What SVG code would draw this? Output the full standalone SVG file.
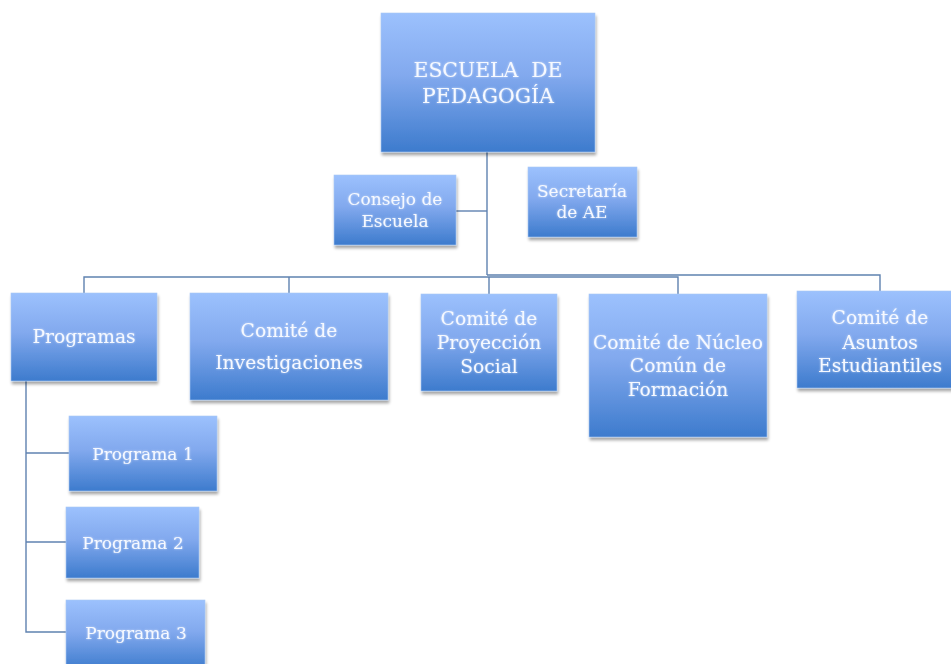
<svg xmlns="http://www.w3.org/2000/svg" width="951" height="664" viewBox="0 0 951 664">
<style>
.box{fill:url(#g);filter:url(#sh);stroke:#a9c8f5;stroke-width:0.6}
.t{font-family:"DejaVu Serif","Liberation Serif",serif;fill:#f6f9ff;text-anchor:middle;font-size:17px;filter:url(#glow)}
.m{font-size:18.7px}
.h{font-size:20.4px;white-space:pre}
.c{fill:none;stroke:#5f82b0;stroke-width:1.4}
</style>
<defs>
<linearGradient id="g" x1="0" y1="0" x2="0" y2="1">
<stop offset="0" stop-color="#9cc1fd"/>
<stop offset="0.45" stop-color="#82a9ee"/>
<stop offset="1" stop-color="#3d7bcd"/>
</linearGradient>
<filter id="sh" x="-10%" y="-10%" width="125%" height="130%">
<feGaussianBlur in="SourceAlpha" stdDeviation="1.8"/>
<feOffset dx="1" dy="3" result="b"/>
<feComponentTransfer><feFuncA type="linear" slope="0.35"/></feComponentTransfer>
<feMerge><feMergeNode/><feMergeNode in="SourceGraphic"/></feMerge>
</filter>
<filter id="glow" x="-10%" y="-30%" width="120%" height="160%">
<feGaussianBlur in="SourceGraphic" stdDeviation="0.9"/>
<feComponentTransfer><feFuncA type="linear" slope="0.6"/></feComponentTransfer>
<feMerge><feMergeNode/><feMergeNode in="SourceGraphic"/></feMerge>
</filter>
</defs>
<g id="connectors">
<path class="c" d="M487 152V275"/>
<path class="c" d="M456 211H487"/>
<path class="c" d="M487 275H880V291"/>
<path class="c" d="M84 293V277H678V294"/>
<path class="c" d="M289 277V293"/>
<path class="c" d="M489 277V294"/>
<path class="c" d="M26 381V632H66"/>
<path class="c" d="M26 453H69"/>
<path class="c" d="M26 542H66"/>
</g>
<g id="escuela"><rect class="box" x="381" y="13" width="214" height="139"/>
<text class="t h" x="488" y="77" xml:space="preserve">ESCUELA  DE</text>
<text class="t h" x="488" y="103">PEDAGOGÍA</text></g>
<g id="consejo"><rect class="box" x="334" y="175" width="122" height="70"/>
<text class="t" x="395" y="205">Consejo de</text>
<text class="t" x="395" y="227">Escuela</text></g>
<g id="secretaria"><rect class="box" x="528" y="167" width="109" height="70"/>
<text class="t" x="582" y="197">Secretaría</text>
<text class="t" x="582" y="218">de AE</text></g>
<g id="programas"><rect class="box" x="11" y="293" width="146" height="88"/>
<text class="t m" x="84" y="343">Programas</text></g>
<g id="investigaciones"><rect class="box" x="190" y="293" width="198" height="107"/>
<text class="t m" x="289" y="337">Comité de</text>
<text class="t m" x="289" y="369">Investigaciones</text></g>
<g id="proyeccion"><rect class="box" x="421" y="294" width="136" height="97"/>
<text class="t m" x="489" y="325">Comité de</text>
<text class="t m" x="489" y="349">Proyección</text>
<text class="t m" x="489" y="373">Social</text></g>
<g id="nucleo"><rect class="box" x="589" y="294" width="178" height="143"/>
<text class="t m" x="678" y="349">Comité de Núcleo</text>
<text class="t m" x="678" y="372">Común de</text>
<text class="t m" x="678" y="396">Formación</text></g>
<g id="asuntos"><rect class="box" x="797" y="291" width="156" height="97"/>
<text class="t m" x="880" y="324">Comité de</text>
<text class="t m" x="880" y="349">Asuntos</text>
<text class="t m" x="880" y="372">Estudiantiles</text></g>
<g id="programa1"><rect class="box" x="69" y="416" width="148" height="75"/>
<text class="t" x="143" y="460">Programa 1</text></g>
<g id="programa2"><rect class="box" x="66" y="507" width="133" height="71"/>
<text class="t" x="133" y="549">Programa 2</text></g>
<g id="programa3"><rect class="box" x="66" y="600" width="139" height="70"/>
<text class="t" x="136" y="639">Programa 3</text></g>
</svg>
